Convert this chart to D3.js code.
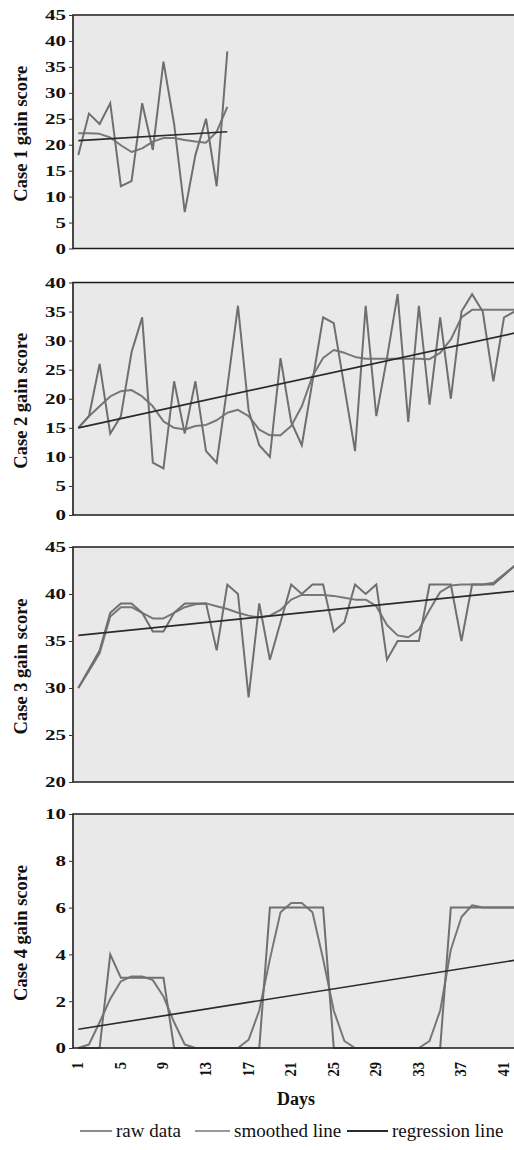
<!DOCTYPE html>
<html>
<head>
<meta charset="utf-8">
<script src="https://cdn.jsdelivr.net/npm/d3@7"></script>
<style>
  body { margin: 0; background: #fff; }
  svg { display: block; font-family: "Liberation Serif", "Times New Roman", serif; }
</style>
</head>
<body>
<script>
// days on the x axis and the labels Excel printed under the last panel
var days = [1,2,3,4,5,6,7,8,9,10,11,12,13,14,15,16,17,18,19,20,21,
            22,23,24,25,26,27,28,29,30,31,32,33,34,35,36,37,38,39,40,41,42];
var dayTicks = [1,5,9,13,17,21,25,29,33,37,41];

// case 1 (only 15 days)
var case1Raw = [18,26,24,28,12,13,28,19,36,24,7,18,25,12,38];
var case1Smooth = [22.2,22.2,22.1,21.4,19.9,18.6,19.3,20.6,21.3,21.3,20.9,20.6,20.4,22.5,27.3];
var case1Reg = [[1,20.8],[15,22.5]];

// case 2
var case2Raw = [15,17,26,14,17,28,34,9,8,23,14,23,11,9,22,36,18,12,10,27,16,
                12,23,34,33,22,11,36,17,27,38,16,36,19,34,20,35,38,35,23,34,35];
var case2Smooth = [15,17,18.7,20.4,21.3,21.5,20.4,18.7,16.1,15,14.7,15.3,15.5,16.3,17.6,18.1,17,14.7,13.7,13.7,15.3,
                   18.7,23.9,27,28.4,27.9,27.2,26.9,26.9,26.9,26.9,26.9,26.9,26.8,27.9,30.2,34,35.3,35.3,35.3,35.3,35.3];
var case2Reg = [[1,15],[42,31.3]];

// case 3
var case3Raw = [30,32,34,38,39,39,38,36,36,38,39,39,39,34,41,40,29,39,33,37,41,
                40,41,41,36,37,41,40,41,33,35,35,35,41,41,41,35,41,41,41,42,43];
var case3Smooth = [30,31.8,33.7,37.6,38.6,38.6,38,37.4,37.4,38,38.6,38.9,39,38.7,38.4,38,37.7,37.5,37.7,38.3,39.4,
                   39.9,39.9,39.9,39.8,39.6,39.4,39.4,38.7,36.7,35.6,35.4,36.2,38.3,40.2,40.9,41,41,41,41.2,42.1,43];
var case3Reg = [[1,35.6],[42,40.3]];

// case 4
var case4Raw = [0,0,0,4,3,3,3,3,3,0,0,0,0,0,0,0,0,0,6,6,6,
                6,6,6,0,0,0,0,0,0,0,0,0,0,0,6,6,6,6,6,6,6];
var case4Smooth = [0,0.15,1.1,2.1,2.85,3.06,3.06,2.9,2.2,1.1,0.15,0,0,0,0,0,0.35,1.6,3.8,5.8,6.2,
                   6.2,5.8,3.8,1.6,0.3,0,0,0,0,0,0,0,0.3,1.6,4.2,5.6,6.1,6,6,6,6];
var case4Reg = [[1,0.8],[42,3.75]];

var caseNames = ["Case 1 gain score","Case 2 gain score","Case 3 gain score","Case 4 gain score"];
var yDomains = [[0,45],[0,40],[20,45],[0,10]];
var yTicks = [
  [0,5,10,15,20,25,30,35,40,45],
  [0,5,10,15,20,25,30,35,40],
  [20,25,30,35,40,45],
  [0,2,4,6,8,10]
];
var legendNames = ["raw data","smoothed line","regression line"];

var W = 514, H = 1150;
var left = 73, right = 520;
var panelBox = [[15,248.5],[282.5,515],[547,782],[814,1048]];

var rawColor = "#6f6f6f", smoothColor = "#777777", regColor = "#2b2b2b";

var panels = [
  {raw: case1Raw, smooth: case1Smooth, reg: case1Reg},
  {raw: case2Raw, smooth: case2Smooth, reg: case2Reg},
  {raw: case3Raw, smooth: case3Smooth, reg: case3Reg},
  {raw: case4Raw, smooth: case4Smooth, reg: case4Reg}
];

var svg = d3.select("body").append("svg")
  .attr("width", W)
  .attr("height", H);

svg.append("rect").attr("width", W).attr("height", H).attr("fill", "#fff");

var x = d3.scaleLinear().domain([0.5, 42.5]).range([left, right]);

panels.forEach(function(p, i){
  var top = panelBox[i][0], bottom = panelBox[i][1];
  var y = d3.scaleLinear().domain(yDomains[i]).range([bottom, top]);

  var g = svg.append("g").attr("class", "panel");

  g.append("clipPath").attr("id", "clip" + i)
    .append("rect")
    .attr("x", left).attr("y", top - 2)
    .attr("width", W - left).attr("height", bottom - top + 4);

  g.append("rect")
    .attr("x", left).attr("y", top)
    .attr("width", right - left).attr("height", bottom - top)
    .attr("fill", "#e9e9e9");

  var line = d3.line()
    .x(function(d, j){ return x(days[j]); })
    .y(function(d){ return y(d); });

  var regLine = d3.line()
    .x(function(d){ return x(d[0]); })
    .y(function(d){ return y(d[1]); });

  var lines = g.append("g").attr("clip-path", "url(#clip" + i + ")");

  lines.append("path")
    .datum(p.smooth)
    .attr("d", line)
    .attr("fill", "none")
    .attr("stroke", smoothColor)
    .attr("stroke-width", 2)
    .attr("stroke-linejoin", "round");

  lines.append("path")
    .datum(p.raw)
    .attr("d", line)
    .attr("fill", "none")
    .attr("stroke", rawColor)
    .attr("stroke-width", 2)
    .attr("stroke-linejoin", "miter");

  lines.append("path")
    .datum(p.reg)
    .attr("d", regLine)
    .attr("fill", "none")
    .attr("stroke", regColor)
    .attr("stroke-width", 1.7);

  // frame: top, left, bottom
  g.append("path")
    .attr("d", "M" + W + "," + top + "H" + left + "V" + bottom + "H" + W)
    .attr("fill", "none")
    .attr("stroke", "#1c1c1c")
    .attr("stroke-width", 1.6);

  var axis = g.append("g")
    .attr("transform", "translate(" + left + ",0)")
    .call(d3.axisLeft(y).tickValues(yTicks[i]).tickSize(4).tickPadding(0));
  axis.select(".domain").remove();
  axis.selectAll(".tick line").attr("stroke", "#333");
  axis.selectAll(".tick text")
    .attr("x", null)
    .attr("transform", "translate(-7,0) scale(1.35,1)")
    .attr("fill", "#111")
    .style("font-family", "'Liberation Serif', serif")
    .style("font-weight", "bold")
    .style("font-size", "15.5px");

  svg.append("text")
    .attr("transform", "translate(27," + ((top + bottom) / 2 + 2) + ") rotate(-90)")
    .attr("text-anchor", "middle")
    .attr("fill", "#111")
    .style("font-weight", "bold")
    .style("font-size", "18.5px")
    .text(caseNames[i]);

  if (i === 3) {
    svg.append("g").selectAll("text")
      .data(dayTicks)
      .join("text")
      .attr("transform", function(d){ return "translate(" + (x(d) + 5) + ",1062) rotate(-90) scale(1,1.15)"; })
      .attr("text-anchor", "end")
      .attr("fill", "#111")
      .style("font-weight", "bold")
      .style("font-size", "14.5px")
      .text(function(d){ return d; });
  }
});

svg.append("text")
  .attr("x", 296).attr("y", 1105)
  .attr("text-anchor", "middle")
  .attr("fill", "#111")
  .style("font-weight", "bold")
  .style("font-size", "18px")
  .text("Days");

// legend
var legendX = [[80,112],[195,230],[347,388]];
var legendColors = [rawColor, smoothColor, regColor];
var legend = svg.append("g").attr("class", "legend");
legendNames.forEach(function(name, k){
  legend.append("line")
    .attr("x1", legendX[k][0]).attr("x2", legendX[k][1])
    .attr("y1", 1131).attr("y2", 1131)
    .attr("stroke", legendColors[k])
    .attr("stroke-width", k === 2 ? 2 : 1.6);
  legend.append("text")
    .attr("x", legendX[k][1] + 4).attr("y", 1137)
    .attr("fill", "#111")
    .style("font-size", "19px")
    .text(name);
});
</script>
</body>
</html>
